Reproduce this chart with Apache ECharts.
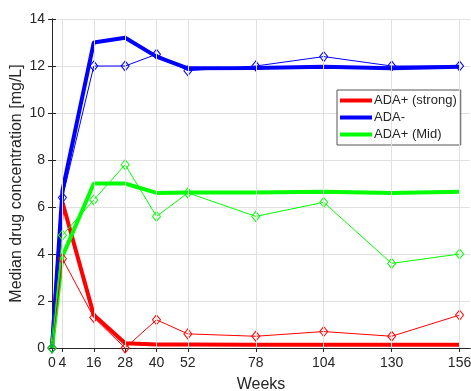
<!DOCTYPE html>
<html>
<head>
<meta charset="utf-8">
<script src="https://cdn.jsdelivr.net/npm/echarts@6/dist/echarts.min.js"></script>
<style>
  html, body { margin: 0; padding: 0; background: #fff; }
  #chart { width: 471px; height: 391px; }
</style>
</head>
<body>
<div id="chart"></div>
<script>
// weeks where both model and observed values sit
const weeks = [0, 4, 16, 28, 40, 52, 78, 104, 130, 156]
const weekTicks = [0, 4, 16, 28, 40, 52, 78, 104, 130, 156]

// thick lines (model)
const strongModel = [0, 6.2, 1.4, 0.2, 0.15, 0.15, 0.14, 0.14, 0.14, 0.14]
const negModel = [0, 6.7, 13.0, 13.2, 12.4, 11.9, 11.92, 11.97, 11.9, 11.97]
const midModel = [0, 3.9, 7.0, 7.0, 6.6, 6.62, 6.62, 6.65, 6.6, 6.65]

// thin lines with diamonds (observed)
const strongObs = [0, 3.8, 1.3, 0.0, 1.2, 0.6, 0.5, 0.7, 0.5, 1.4]
const negObs = [0, 6.4, 12.0, 12.0, 12.5, 11.8, 12.0, 12.4, 12.0, 12.0]
const midObs = [0, 4.8, 6.3, 7.8, 5.6, 6.6, 5.6, 6.2, 3.6, 4.0]

const RED = '#ff0000'
const BLUE = '#0000ff'
const GREEN = '#00ff00'
const TXT = '#262626'
const GRID = '#e0e0e0'

function pairs (ys) {
  return weeks.map((w, i) => [w, ys[i]])
}

function modelSeries (name, ys, color) {
  return {
    name: name,
    type: 'line',
    data: pairs(ys),
    showSymbol: false,
    symbol: 'none',
    color: color,
    lineStyle: { width: 4, color: color },
    z: 3,
    animation: false
  }
}

function obsSeries (name, ys, color) {
  return {
    name: name,
    type: 'line',
    data: pairs(ys),
    symbol: 'diamond',
    symbolSize: [8, 10],
    color: color,
    lineStyle: { width: 1, color: color },
    itemStyle: { color: 'rgba(0,0,0,0)', borderColor: color, borderWidth: 1 },
    z: 4,
    animation: false
  }
}

const chart = echarts.init(document.getElementById('chart'))
const option = {
  backgroundColor: '#fff',
  animation: false,
  textStyle: { fontFamily: 'Liberation Sans, Arial, sans-serif' },
  grid: { left: 52, right: 1, top: 19, bottom: 43, outerBoundsMode: 'none' },
  legend: {
    data: ['ADA+ (strong)', 'ADA-', 'ADA+ (Mid)'],
    orient: 'vertical',
    left: 337,
    top: 90,
    itemWidth: 32,
    itemHeight: 4,
    itemGap: 4,
    icon: 'rect',
    backgroundColor: '#fff',
    borderColor: '#555',
    borderWidth: 1,
    padding: [4, 4, 4, 3],
    textStyle: { fontSize: 13, color: TXT, padding: [0, 0, 0, -3] }
  },
  xAxis: [{
    type: 'value',
    min: 0,
    max: 160,
    name: 'Weeks',
    nameLocation: 'middle',
    nameGap: 29,
    nameMoveOverlap: false,
    nameTextStyle: { fontSize: 16, color: TXT },
    axisLine: { show: true, lineStyle: { color: TXT } },
    axisTick: { show: true, inside: true, length: 4, customValues: weekTicks, lineStyle: { color: TXT } },
    axisLabel: { customValues: weekTicks, fontSize: 14, color: TXT, margin: 8 },
    splitLine: { show: false }
  }, {
    type: 'value',
    position: 'top',
    min: 0,
    max: 160,
    axisLine: { show: true, lineStyle: { color: TXT } },
    axisTick: { show: true, inside: true, length: 4, customValues: weekTicks, lineStyle: { color: TXT } },
    axisLabel: { show: false },
    splitLine: { show: false }
  }],
  yAxis: [{
    type: 'value',
    min: 0,
    max: 14,
    interval: 2,
    name: 'Median drug concentration [mg/L]',
    nameLocation: 'middle',
    nameGap: 27,
    nameMoveOverlap: false,
    nameTextStyle: { fontSize: 16, color: TXT },
    axisLine: { show: true, lineStyle: { color: TXT } },
    axisTick: { show: true, inside: true, length: 4, lineStyle: { color: TXT } },
    axisLabel: { fontSize: 14, color: TXT, margin: 7 },
    splitLine: { show: true, lineStyle: { color: GRID, width: 1 } }
  }, {
    type: 'value',
    position: 'right',
    min: 0,
    max: 14,
    interval: 2,
    axisLine: { show: true, lineStyle: { color: TXT } },
    axisTick: { show: true, inside: true, length: 4, lineStyle: { color: TXT } },
    axisLabel: { show: false },
    splitLine: { show: false }
  }],
  series: [
    {
      name: 'grid',
      type: 'line',
      data: [],
      z: 1,
      silent: true,
      markLine: {
        silent: true,
        symbol: 'none',
        label: { show: false },
        lineStyle: { color: GRID, width: 1, type: 'solid' },
        data: weekTicks.filter(w => w > 0).map(w => ({ xAxis: w }))
      }
    },
    modelSeries('ADA+ (strong)', strongModel, RED),
    modelSeries('ADA-', negModel, BLUE),
    modelSeries('ADA+ (Mid)', midModel, GREEN),
    obsSeries('obs strong', strongObs, RED),
    obsSeries('obs neg', negObs, BLUE),
    obsSeries('obs mid', midObs, GREEN)
  ]
}
chart.setOption(option)
</script>
</body>
</html>
